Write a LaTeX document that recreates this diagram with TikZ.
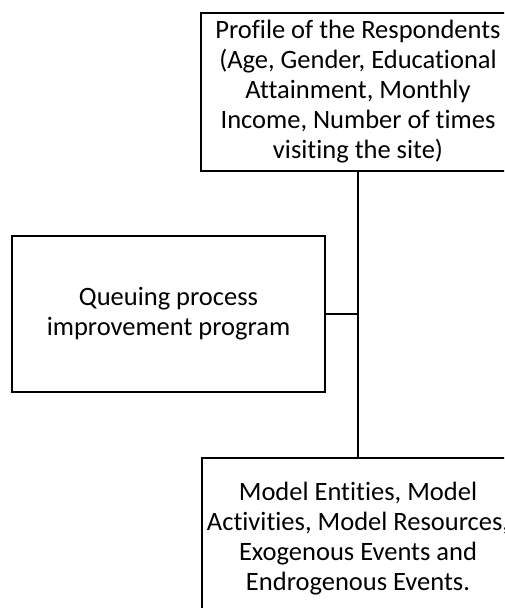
\documentclass[tikz,border=0pt]{standalone}
\usepackage{fontspec}
\setmainfont{Carlito}[RawFeature={-liga;-dlig;-clig}]
\begin{document}
\begin{tikzpicture}[x=1pt,y=-1pt,
  box/.style={draw=black,line width=2.2pt,fill=white,align=center,
    inner sep=0pt,font=\fontsize{26.5}{30}\selectfont},
  link/.style={draw=black,line width=2.2pt}]
\useasboundingbox (0,0) rectangle (504,608);
\clip (0,0) rectangle (504,608);
\fill[white] (0,0) rectangle (504,608);
% framework boxes
\node[box,minimum width=314pt,minimum height=158pt] (profile) at (358,92)
  {Profile of the Respondents\\(Age, Gender, Educational\\Attainment, Monthly\\Income, Number of times\\visiting the site)};
\node[box,minimum width=313pt,minimum height=156pt] (program) at (168.5,314)
  {Queuing process\\improvement program};
\node[box,minimum width=312pt,minimum height=162pt] (model) at (358,539)
  {Model Entities, Model\\Activities, Model Resources,\\Exogenous Events and\\Endrogenous Events.};
% connectors
\coordinate (joint) at (profile.south |- program.east);
\draw[link] (profile.south) -- (model.north);
\draw[link] (program.east) -- (joint);
\end{tikzpicture}
\end{document}
